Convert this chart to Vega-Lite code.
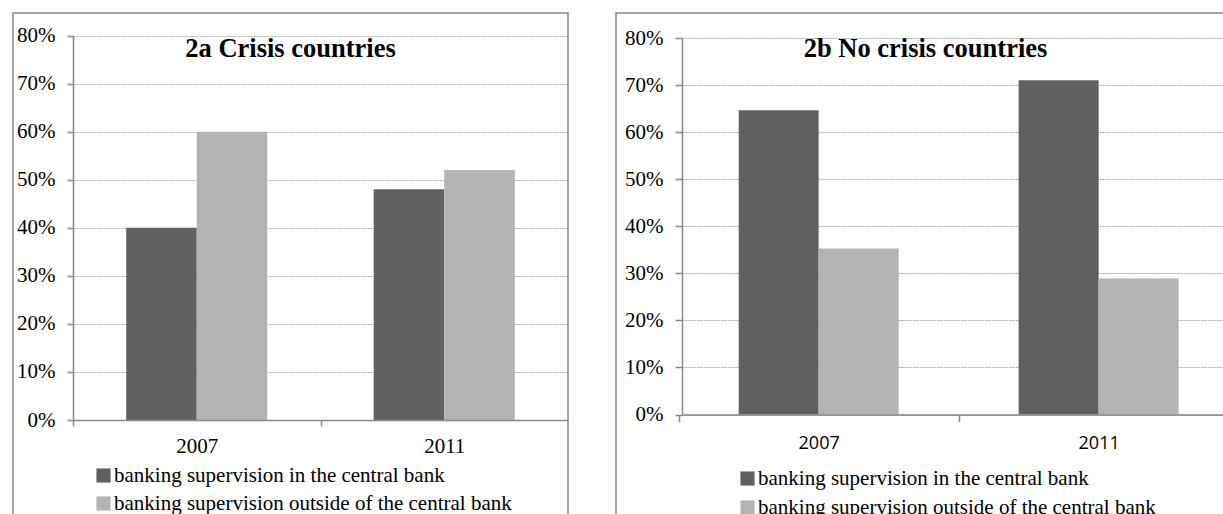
{
  "$schema": "https://vega.github.io/schema/vega-lite/v6.json",
  "background": "white",
  "padding": {"left": 12, "top": 12, "right": 0, "bottom": 0},
  "spacing": 46,
  "resolve": {"scale": {"color": "independent", "xOffset": "independent"}, "legend": {"color": "independent"}},
  "datasets": {
    "crisis": [
      {"year": "2007", "series": "banking supervision in the central bank", "share": 0.40},
      {"year": "2007", "series": "banking supervision outside of the central bank", "share": 0.60},
      {"year": "2011", "series": "banking supervision in the central bank", "share": 0.48},
      {"year": "2011", "series": "banking supervision outside of the central bank", "share": 0.52}
    ],
    "nocrisis": [
      {"year": "2007", "series": "banking supervision in the central bank", "share": 0.647},
      {"year": "2007", "series": "banking supervision outside of the central bank", "share": 0.353},
      {"year": "2011", "series": "banking supervision in the central bank", "share": 0.711},
      {"year": "2011", "series": "banking supervision outside of the central bank", "share": 0.289}
    ]
  },
  "config": {
    "font": "Liberation Serif",
    "axis": {
      "domainColor": "#878787",
      "domainWidth": 1.5,
      "tickColor": "#878787",
      "tickWidth": 1.5,
      "labelColor": "black",
      "labelFont": "Liberation Serif",
      "labelFontSize": 21
    },
    "legend": {
      "labelFont": "Liberation Serif",
      "labelFontSize": 21,
      "labelColor": "black",
      "labelLimit": 1000,
      "symbolType": "square",
      "symbolSize": 200,
      "symbolStrokeWidth": 0,
      "symbolOpacity": 1,
      "labelOffset": 0,
      "padding": 0
    }
  },
  "hconcat": [
    {
      "width": 555,
      "height": 501,
      "view": {"stroke": "#898989", "strokeWidth": 1.5, "strokeDash": [1056, 555, 501]},
      "title": {
        "text": "2a Crisis countries",
        "font": "Liberation Serif",
        "fontSize": 26.5,
        "fontWeight": "bold",
        "color": "black",
        "anchor": "middle",
        "frame": "group",
        "baseline": "alphabetic",
        "offset": -70
      },
      "data": {"name": "crisis"},
      "mark": {"type": "bar"},
      "encoding": {
        "x": {
          "field": "year",
          "type": "nominal",
          "scale": {"range": [60, 555], "paddingInner": 0.43, "paddingOuter": 0.215},
          "axis": {
            "title": null,
            "orient": "bottom",
            "offset": -94,
            "labelAngle": 0,
            "labelPadding": 9,
            "tickSize": 6,
            "tickOffset": -123.75,
            "labelOffset": 123.75,
            "grid": false,
            "zindex": 1
          }
        },
        "xOffset": {
          "field": "series",
          "type": "nominal",
          "sort": ["banking supervision in the central bank", "banking supervision outside of the central bank"],
          "scale": {"paddingInner": 0, "paddingOuter": 0}
        },
        "y": {
          "field": "share",
          "type": "quantitative",
          "scale": {"domain": [0, 0.8], "range": [407, 22.5], "nice": false},
          "axis": {
            "title": null,
            "orient": "left",
            "offset": -60,
            "format": ".0%",
            "values": [0, 0.1, 0.2, 0.3, 0.4, 0.5, 0.6, 0.7, 0.8],
            "labelPadding": 12,
            "tickSize": 6,
            "grid": true,
            "gridColor": "#a8a8a8",
            "gridDash": [2, 1],
            "gridWidth": 1,
            "zindex": 0
          }
        },
        "color": {
          "field": "series",
          "type": "nominal",
          "scale": {
            "domain": ["banking supervision in the central bank", "banking supervision outside of the central bank"],
            "range": ["#606060", "#b3b3b3"]
          },
          "legend": {"orient": "none", "legendX": 80, "legendY": 452, "title": null, "rowPadding": 6}
        }
      }
    },
    {
      "width": 609,
      "height": 501,
      "view": {"stroke": "#898989", "strokeWidth": 1.5, "strokeDash": [609, 1110, 501]},
      "title": {
        "text": "2b No crisis countries",
        "font": "Liberation Serif",
        "fontSize": 26.5,
        "fontWeight": "bold",
        "color": "black",
        "anchor": "middle",
        "frame": "group",
        "baseline": "alphabetic",
        "offset": -70,
        "dx": 5
      },
      "data": {"name": "nocrisis"},
      "mark": {"type": "bar"},
      "encoding": {
        "x": {
          "field": "year",
          "type": "nominal",
          "scale": {"range": [66, 609], "paddingInner": 0.4286, "paddingOuter": 0.184, "align": 0.55},
          "axis": {
            "title": null,
            "orient": "bottom",
            "offset": -99.5,
            "labelAngle": 0,
            "labelFont": "Open Sans",
            "labelFontSize": 18,
            "labelPadding": 13,
            "tickSize": 7,
            "tickOffset": -140,
            "labelOffset": 140,
            "grid": false,
            "zindex": 1
          }
        },
        "xOffset": {
          "field": "series",
          "type": "nominal",
          "sort": ["banking supervision in the central bank", "banking supervision outside of the central bank"],
          "scale": {"paddingInner": 0, "paddingOuter": 0}
        },
        "y": {
          "field": "share",
          "type": "quantitative",
          "scale": {"domain": [0, 0.8], "range": [401.5, 25.3], "nice": false},
          "axis": {
            "title": null,
            "orient": "left",
            "offset": -66,
            "format": ".0%",
            "values": [0, 0.1, 0.2, 0.3, 0.4, 0.5, 0.6, 0.7, 0.8],
            "labelPadding": 12,
            "tickSize": 7,
            "grid": true,
            "gridColor": "#a8a8a8",
            "gridDash": [2, 1],
            "gridWidth": 1,
            "zindex": 0
          }
        },
        "color": {
          "field": "series",
          "type": "nominal",
          "scale": {
            "domain": ["banking supervision in the central bank", "banking supervision outside of the central bank"],
            "range": ["#606060", "#b3b3b3"]
          },
          "legend": {"orient": "none", "legendX": 121, "legendY": 455, "title": null, "rowPadding": 7}
        }
      }
    }
  ]
}
